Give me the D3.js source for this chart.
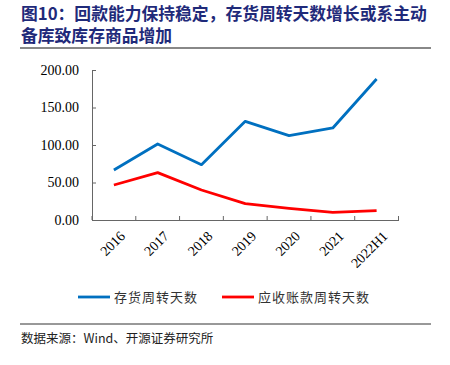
<!DOCTYPE html>
<html>
<head>
<meta charset="utf-8">
<script src="https://cdn.jsdelivr.net/npm/d3@7"></script>
<style>
  body { margin: 0; background: #fff; }
</style>
</head>
<body>
<div id="chart"></div>
<script>
var categories = ["2016", "2017", "2018", "2019", "2020", "2021", "2022H1"];
var inventoryDays = [66.7, 101.3, 73.8, 131.6, 112.4, 122.7, 188.0];
var receivableDays = [46.7, 63.1, 40.0, 21.8, 15.6, 10.2, 12.4];
var yTicks = [0, 50, 100, 150, 200];
var seriesNames = ["存货周转天数", "应收账款周转天数"];
var seriesColors = ["#0070c0", "#ff0000"];

var width = 450, height = 365;
var cjk = "'Noto Sans CJK SC', sans-serif";
var serif = "'Liberation Serif', 'Times New Roman', serif";

var svg = d3.select("#chart").append("svg")
  .attr("width", width)
  .attr("height", height);

// title
var title = svg.append("g").attr("fill", "#1f2a7a")
  .attr("font-family", cjk).attr("font-weight", "bold").attr("font-size", 16.8);
title.append("text").attr("x", 21).attr("y", 20)
  .text("图10：回款能力保持稳定，存货周转天数增长或系主动");
title.append("text").attr("x", 21).attr("y", 42)
  .text("备库致库存商品增加");
svg.append("line").attr("x1", 20).attr("x2", 431).attr("y1", 48).attr("y2", 48)
  .attr("stroke", "#888").attr("stroke-width", 2);

var x = d3.scaleBand().domain(categories).range([92, 398.5]);
var y = d3.scaleLinear().domain([0, 200]).range([220, 70]);

// y axis
var yAxis = svg.append("g").attr("transform", "translate(92,0)")
  .call(d3.axisLeft(y).tickValues(yTicks).tickSize(-4).tickPadding(13)
    .tickFormat(d3.format(".2f")));
yAxis.selectAll("text").attr("font-family", serif).attr("font-size", 14).attr("fill", "#000");
yAxis.selectAll("line, path").attr("stroke", "#666");

// x axis
var xAxis = svg.append("g").attr("transform", "translate(0,220)")
  .call(d3.axisBottom(x).tickSize(0).tickSizeOuter(0).tickFormat(""));
xAxis.select("path").attr("stroke", "#666");
var bounds = categories.map(function (c) { return x(c); }).concat([x.range()[1]]);
xAxis.selectAll(".bound").data(bounds).enter().append("line")
  .attr("x1", function (d) { return d; }).attr("x2", function (d) { return d; })
  .attr("y1", 0).attr("y2", -4).attr("stroke", "#666");
svg.selectAll(".xlab").data(categories).enter().append("text")
  .attr("class", "xlab")
  .attr("transform", function (d) {
    return "translate(" + (x(d) + x.bandwidth() / 2 + 5) + ",230) rotate(-45)";
  })
  .attr("text-anchor", "end").attr("dy", "0.7em")
  .attr("font-family", serif).attr("font-size", 14)
  .text(function (d) { return d; });

// lines
var line = d3.line()
  .x(function (d, i) { return x(categories[i]) + x.bandwidth() / 2; })
  .y(function (d) { return y(d); });
[inventoryDays, receivableDays].forEach(function (vals, i) {
  svg.append("path").datum(vals)
    .attr("d", line).attr("fill", "none")
    .attr("stroke", seriesColors[i]).attr("stroke-width", 2.8)
    .attr("stroke-linejoin", "round");
});

// legend
var legendX = [78, 222];
seriesNames.forEach(function (name, i) {
  var g = svg.append("g").attr("transform", "translate(" + legendX[i] + ",297)");
  g.append("line").attr("x1", 0).attr("x2", 32).attr("y1", 0).attr("y2", 0)
    .attr("stroke", seriesColors[i]).attr("stroke-width", 2.8);
  g.append("text").attr("x", 36).attr("y", 5)
    .attr("font-family", cjk).attr("font-size", 13).attr("fill", "#333")
    .attr("letter-spacing", 1)
    .text(name);
});

// source
svg.append("line").attr("x1", 20).attr("x2", 431).attr("y1", 324).attr("y2", 324)
  .attr("stroke", "#333").attr("stroke-width", 1);
svg.append("text").attr("x", 21).attr("y", 343)
  .attr("font-family", cjk).attr("font-size", 12.5).attr("fill", "#222")
  .text("数据来源：Wind、开源证券研究所");
</script>
</body>
</html>
